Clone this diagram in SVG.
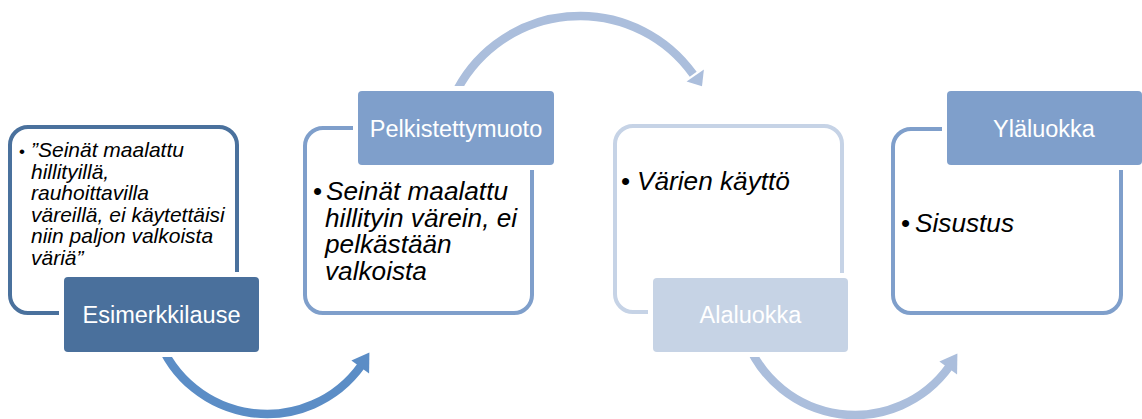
<svg xmlns="http://www.w3.org/2000/svg" width="1142" height="419" viewBox="0 0 1142 419">
<style>
.bg{fill:#ffffff}
.ol{fill:none;stroke-width:4}
.gap{fill:#ffffff}
.lbl{font-family:"Liberation Sans",Arial,sans-serif;font-size:23.5px;fill:#ffffff;text-anchor:middle}
.body{font-family:"Liberation Sans",Arial,sans-serif;font-style:italic;fill:#000000}
.b1{font-size:21px}
.b2{font-size:26.2px}
.bul{font-family:"Liberation Sans",Arial,sans-serif;fill:#000000}
.arc{fill:none;stroke-width:8.5}
</style>
<rect class="bg" x="0" y="0" width="1142" height="419"/>
<g id="connectors">
  <g id="arrow1">
    <path class="arc" stroke="#5b8dc6" d="M158,337.7 A116,116 0 0 0 361.4,365.4"/>
    <polygon fill="#5b8dc6" points="351.4,360.5 369.4,352.5 369.1,373.5"/>
  </g>
  <g id="arrow2">
    <path class="arc" stroke="#abbedc" d="M454,96.3 A139,139 0 0 1 693.2,74.3"/>
    <polygon fill="#abbedc" points="686.6,81.5 703.9,69.5 702,86.3"/>
  </g>
  <g id="arrow3" transform="translate(588,1)">
    <path class="arc" stroke="#abbedc" d="M158,337.7 A116,116 0 0 0 361.4,365.4"/>
    <polygon fill="#abbedc" points="351.4,360.5 369.4,352.5 369.1,373.5"/>
  </g>
</g>
<g id="node-esimerkkilause">
  <rect class="ol" stroke="#4a719d" x="10" y="127" width="227" height="186" rx="18"/>
  <rect class="gap" x="59" y="272" width="205" height="85" rx="6"/>
  <rect fill="#4a709c" x="64" y="277" width="195" height="75" rx="4"/>
  <text class="lbl" x="161.5" y="323">Esimerkkilause</text>
  <text class="bul" x="19" y="157" font-size="17">•</text>
  <text class="body b1" x="31">
    <tspan x="31" y="157">”Seinät maalattu</tspan>
    <tspan x="31" y="178.5">hillityillä,</tspan>
    <tspan x="31" y="200">rauhoittavilla</tspan>
    <tspan x="31" y="221.5">väreillä, ei käytettäisi</tspan>
    <tspan x="31" y="243">niin paljon valkoista</tspan>
    <tspan x="31" y="264.5">väriä”</tspan>
  </text>
</g>
<g id="node-pelkistettymuoto">
  <rect class="ol" stroke="#7f9fcb" x="305" y="128" width="227" height="185" rx="18"/>
  <rect class="gap" x="353" y="86" width="206" height="84" rx="6"/>
  <rect fill="#7f9fcb" x="358" y="91" width="196" height="74" rx="4"/>
  <text class="lbl" x="456" y="137">Pelkistettymuoto</text>
  <text class="bul" x="313" y="200" font-size="26">•</text>
  <text class="body b2">
    <tspan x="326" y="200">Seinät maalattu</tspan>
    <tspan x="325" y="226.7">hillityin värein, ei</tspan>
    <tspan x="325" y="253.3">pelkästään</tspan>
    <tspan x="325" y="280">valkoista</tspan>
  </text>
</g>
<g id="node-alaluokka">
  <rect class="ol" stroke="#c6d3e6" x="615" y="126" width="227" height="186" rx="18"/>
  <rect class="gap" x="648" y="273" width="205" height="84" rx="6"/>
  <rect fill="#c6d3e5" x="653" y="278" width="195" height="74" rx="4"/>
  <text class="lbl" x="750.5" y="323">Alaluokka</text>
  <text class="bul" x="621" y="190" font-size="26">•</text>
  <text class="body b2" x="637" y="190">Värien käyttö</text>
</g>
<g id="node-ylaluokka">
  <rect class="ol" stroke="#7f9fcb" x="893" y="129" width="228" height="184" rx="18"/>
  <rect class="gap" x="942" y="86" width="205" height="84" rx="6"/>
  <rect fill="#7f9fcb" x="947" y="91" width="195" height="74" rx="4"/>
  <text class="lbl" x="1044" y="137">Yläluokka</text>
  <text class="bul" x="901" y="232" font-size="26">•</text>
  <text class="body b2" x="915" y="232">Sisustus</text>
</g>
</svg>
